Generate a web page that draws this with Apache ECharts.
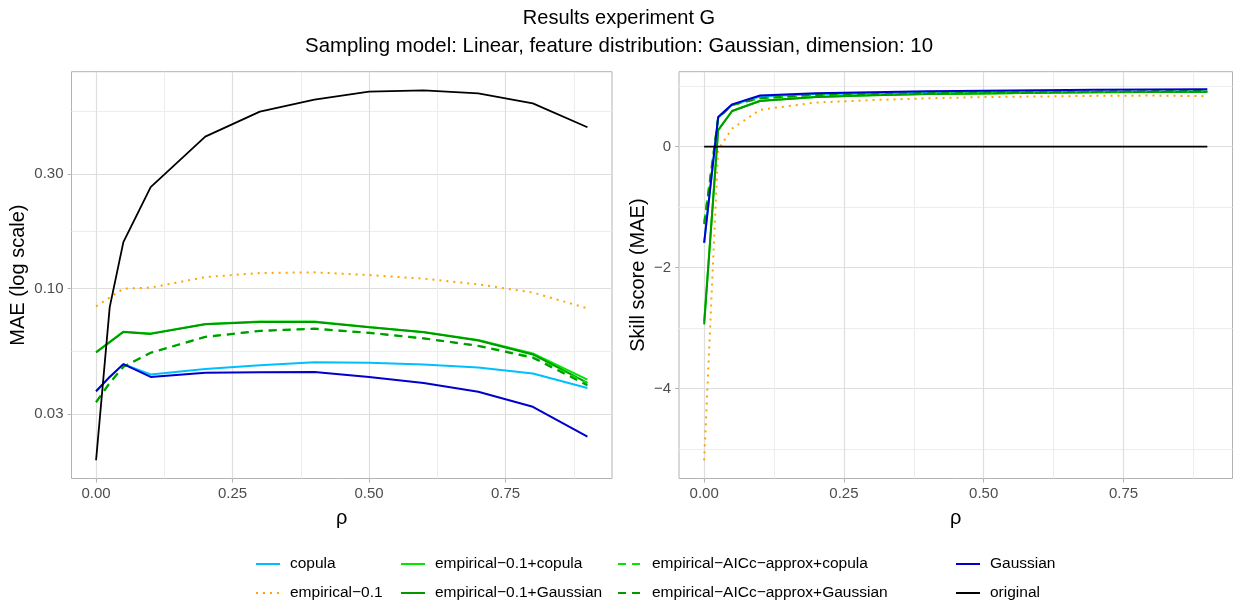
<!DOCTYPE html>
<html>
<head>
<meta charset="utf-8">
<script src="https://cdn.jsdelivr.net/npm/echarts@6/dist/echarts.min.js"></script>
<style>
html,body{margin:0;padding:0;background:#fff;}
#chart{width:1238px;height:605px;}
</style>
</head>
<body>
<div id="chart"></div>
<script>
// ---- data ----
const rho = [0, 0.025, 0.05, 0.1, 0.2, 0.3, 0.4, 0.5, 0.6, 0.7, 0.8, 0.9];
const seriesNames = ['copula', 'empirical\u22120.1', 'empirical\u22120.1+copula', 'empirical\u22120.1+Gaussian',
  'empirical\u2212AICc\u2212approx+copula', 'empirical\u2212AICc\u2212approx+Gaussian', 'Gaussian', 'original'];

// MAE (left panel)
const maeCopula   = [0.0374, 0.0429, 0.0485, 0.0439, 0.0463, 0.0480, 0.0494, 0.0491, 0.0483, 0.0469, 0.0443, 0.0386];
const maeEmp01    = [0.0844, 0.0918, 0.1000, 0.1010, 0.1117, 0.1161, 0.1169, 0.1139, 0.1100, 0.1042, 0.0963, 0.0828];
const maeEmp01Cop = [0.0545, 0.0600, 0.0662, 0.0650, 0.0713, 0.0729, 0.0729, 0.0693, 0.0660, 0.0611, 0.0537, 0.0418];
const maeEmp01Gau = [0.0542, 0.0598, 0.0660, 0.0648, 0.0711, 0.0727, 0.0727, 0.0691, 0.0658, 0.0608, 0.0532, 0.0405];
const maeAicCop   = [0.0338, 0.0406, 0.0474, 0.0542, 0.0631, 0.0668, 0.0682, 0.0656, 0.0622, 0.0579, 0.0519, 0.0404];
const maeAicGau   = [0.0336, 0.0404, 0.0472, 0.0540, 0.0629, 0.0666, 0.0680, 0.0654, 0.0620, 0.0577, 0.0515, 0.0396];
const maeGauss    = [0.0374, 0.0429, 0.0485, 0.0429, 0.0446, 0.0449, 0.0450, 0.0429, 0.0405, 0.0372, 0.0322, 0.0242];
const maeOrig     = [0.0193, 0.0838, 0.1562, 0.2644, 0.4296, 0.5457, 0.6120, 0.6610, 0.6690, 0.6500, 0.5906, 0.4696];

// Skill score (right panel)
const ssCopula   = [-1.59, 0.48, 0.69, 0.83, 0.87, 0.88, 0.89, 0.90, 0.90, 0.905, 0.91, 0.91];
const ssEmp01    = [-5.19, -0.05, 0.30, 0.61, 0.73, 0.77, 0.80, 0.82, 0.83, 0.84, 0.845, 0.835];
const ssEmp01Cop = [-2.90, 0.28, 0.59, 0.76, 0.82, 0.85, 0.87, 0.88, 0.89, 0.90, 0.905, 0.91];
const ssEmp01Gau = [-2.94, 0.27, 0.59, 0.756, 0.82, 0.85, 0.87, 0.88, 0.89, 0.90, 0.905, 0.91];
const ssAicCop   = [-1.25, 0.47, 0.69, 0.80, 0.855, 0.87, 0.885, 0.895, 0.90, 0.91, 0.915, 0.92];
const ssAicGau   = [-1.28, 0.47, 0.69, 0.80, 0.856, 0.87, 0.885, 0.895, 0.90, 0.91, 0.915, 0.92];
const ssGauss    = [-1.59, 0.49, 0.70, 0.845, 0.885, 0.90, 0.915, 0.925, 0.935, 0.94, 0.945, 0.95];
const ssOrig     = [0, 0, 0, 0, 0, 0, 0, 0, 0, 0, 0, 0];

// tick values
const xTicks = [0, 0.25, 0.5, 0.75];
const xMinor = [0.125, 0.375, 0.625, 0.875];
const maeTicks = [0.03, 0.1, 0.3];
const maeMinor = [0.0548, 0.1732, 0.5477];
const ssTicks = [-4, -2, 0];
const ssMinor = [-5, -3, -1, 1];

// ---- styles ----
const colors = ['#00BFFF', '#FFA500', '#00E600', '#009900', '#00E600', '#009900', '#0000CD', '#000000'];
const dashes = ['solid', [2, 5], 'solid', 'solid', [8, 6], [8, 6], 'solid', 'solid'];
const maeData = [maeCopula, maeEmp01, maeEmp01Cop, maeEmp01Gau, maeAicCop, maeAicGau, maeGauss, maeOrig];
const ssData = [ssCopula, ssEmp01, ssEmp01Cop, ssEmp01Gau, ssAicCop, ssAicGau, ssGauss, ssOrig];

const FONT = '"Liberation Sans", Arial, sans-serif';
const tickCol = '#4D4D4D';
const gridMajor = {show: true, lineStyle: {color: '#DEDEDE', width: 1.2}};
const gridMinor = {show: true, lineStyle: {color: '#EDEDED', width: 1}};
const noLine = {show: false, onZero: false};
const tickStyle = {color: '#B3B3B3', width: 1};
const fmtNum = v => (v < 0 ? '\u2212' + Math.abs(v) : String(v));

function xAxisPair(gridIndex) {
  return [
    {type: 'value', gridIndex, min: -0.045, max: 0.945,
     axisLine: noLine,
     axisTick: {show: true, customValues: xTicks, length: 4, lineStyle: tickStyle},
     axisLabel: {show: true, customValues: xTicks, formatter: v => v.toFixed(2), color: tickCol, fontSize: 15, fontFamily: FONT, margin: 8},
     splitLine: gridMajor,
     name: '\u03c1', nameLocation: 'middle', nameGap: 30,
     nameTextStyle: {color: '#000', fontSize: 20, fontFamily: FONT}},
    {type: 'value', gridIndex, min: -0.045, max: 0.945,
     axisLine: noLine, axisLabel: {show: false},
     axisTick: {show: false, customValues: xMinor},
     splitLine: gridMinor}
  ];
}

const option = {
  animation: false,
  backgroundColor: '#ffffff',
  title: [
    {text: 'Results experiment G', left: 'center', top: 3,
     textStyle: {fontSize: 20, fontWeight: 'normal', color: '#000', fontFamily: FONT}},
    {text: 'Sampling model: Linear, feature distribution: Gaussian, dimension: 10', left: 'center', top: 31,
     textStyle: {fontSize: 20.4, fontWeight: 'normal', color: '#000', fontFamily: FONT}}
  ],
  grid: [
    {left: 71.5, top: 71.7, width: 540.5, height: 406.8, show: true, borderColor: '#B3B3B3', borderWidth: 1, backgroundColor: 'transparent'},
    {left: 679, top: 71.7, width: 553.5, height: 406.8, show: true, borderColor: '#B3B3B3', borderWidth: 1, backgroundColor: 'transparent'}
  ],
  xAxis: [...xAxisPair(0), ...xAxisPair(1)],
  yAxis: [
    {type: 'log', logBase: 10, gridIndex: 0, min: 0.0162, max: 0.80,
     axisLine: noLine,
     axisTick: {show: true, customValues: maeTicks, length: 4, lineStyle: tickStyle},
     axisLabel: {show: true, customValues: maeTicks, formatter: v => Number(v).toFixed(2), color: tickCol, fontSize: 15, fontFamily: FONT, margin: 8},
     splitLine: gridMajor,
     name: 'MAE (log scale)', nameLocation: 'middle', nameGap: 43,
     nameTextStyle: {color: '#000', fontSize: 20, fontFamily: FONT}},
    {type: 'log', logBase: 10, gridIndex: 0, min: 0.0162, max: 0.80,
     axisLine: noLine, axisLabel: {show: false},
     axisTick: {show: false, customValues: maeMinor},
     splitLine: gridMinor},
    {type: 'value', gridIndex: 1, min: -5.49, max: 1.24,
     axisLine: noLine,
     axisTick: {show: true, customValues: ssTicks, length: 4, lineStyle: tickStyle},
     axisLabel: {show: true, customValues: ssTicks, formatter: fmtNum, color: tickCol, fontSize: 15, fontFamily: FONT, margin: 8},
     splitLine: gridMajor,
     name: 'Skill score (MAE)', nameLocation: 'middle', nameGap: 31,
     nameTextStyle: {color: '#000', fontSize: 20, fontFamily: FONT}},
    {type: 'value', gridIndex: 1, min: -5.49, max: 1.24,
     axisLine: noLine, axisLabel: {show: false},
     axisTick: {show: false, customValues: ssMinor},
     splitLine: gridMinor}
  ],
  legend: [],
  series: []
};

// legend: 2 rows x 4 columns, column-major like the original
const legendCols = [255, 400, 617, 955];
const legendRows = [556, 585];
seriesNames.forEach((name, i) => {
  option.legend.push({
    data: [name], left: legendCols[Math.floor(i / 2)], top: legendRows[i % 2],
    padding: 0, itemWidth: 24, itemHeight: 14, selectedMode: false,
    itemStyle: {opacity: 0, borderWidth: 0},
    textStyle: {fontSize: 15.5, color: '#000', fontFamily: FONT, padding: [0, 0, 0, 5]}
  });
});

seriesNames.forEach((name, i) => {
  const ls = {color: colors[i], width: i === 7 ? 1.8 : 2, type: dashes[i], cap: 'butt'};
  option.series.push({
    name, type: 'line', xAxisIndex: 0, yAxisIndex: 0, symbol: 'none', color: colors[i],
    lineStyle: ls, data: rho.map((x, k) => [x, maeData[i][k]]), z: 2 + i
  });
  option.series.push({
    name, type: 'line', xAxisIndex: 2, yAxisIndex: 2, symbol: 'none', color: colors[i],
    lineStyle: ls, data: rho.map((x, k) => [x, ssData[i][k]]), z: 2 + i
  });
});

const chart = echarts.init(document.getElementById('chart'), null, {renderer: 'canvas'});
chart.setOption(option);
</script>
</body>
</html>
